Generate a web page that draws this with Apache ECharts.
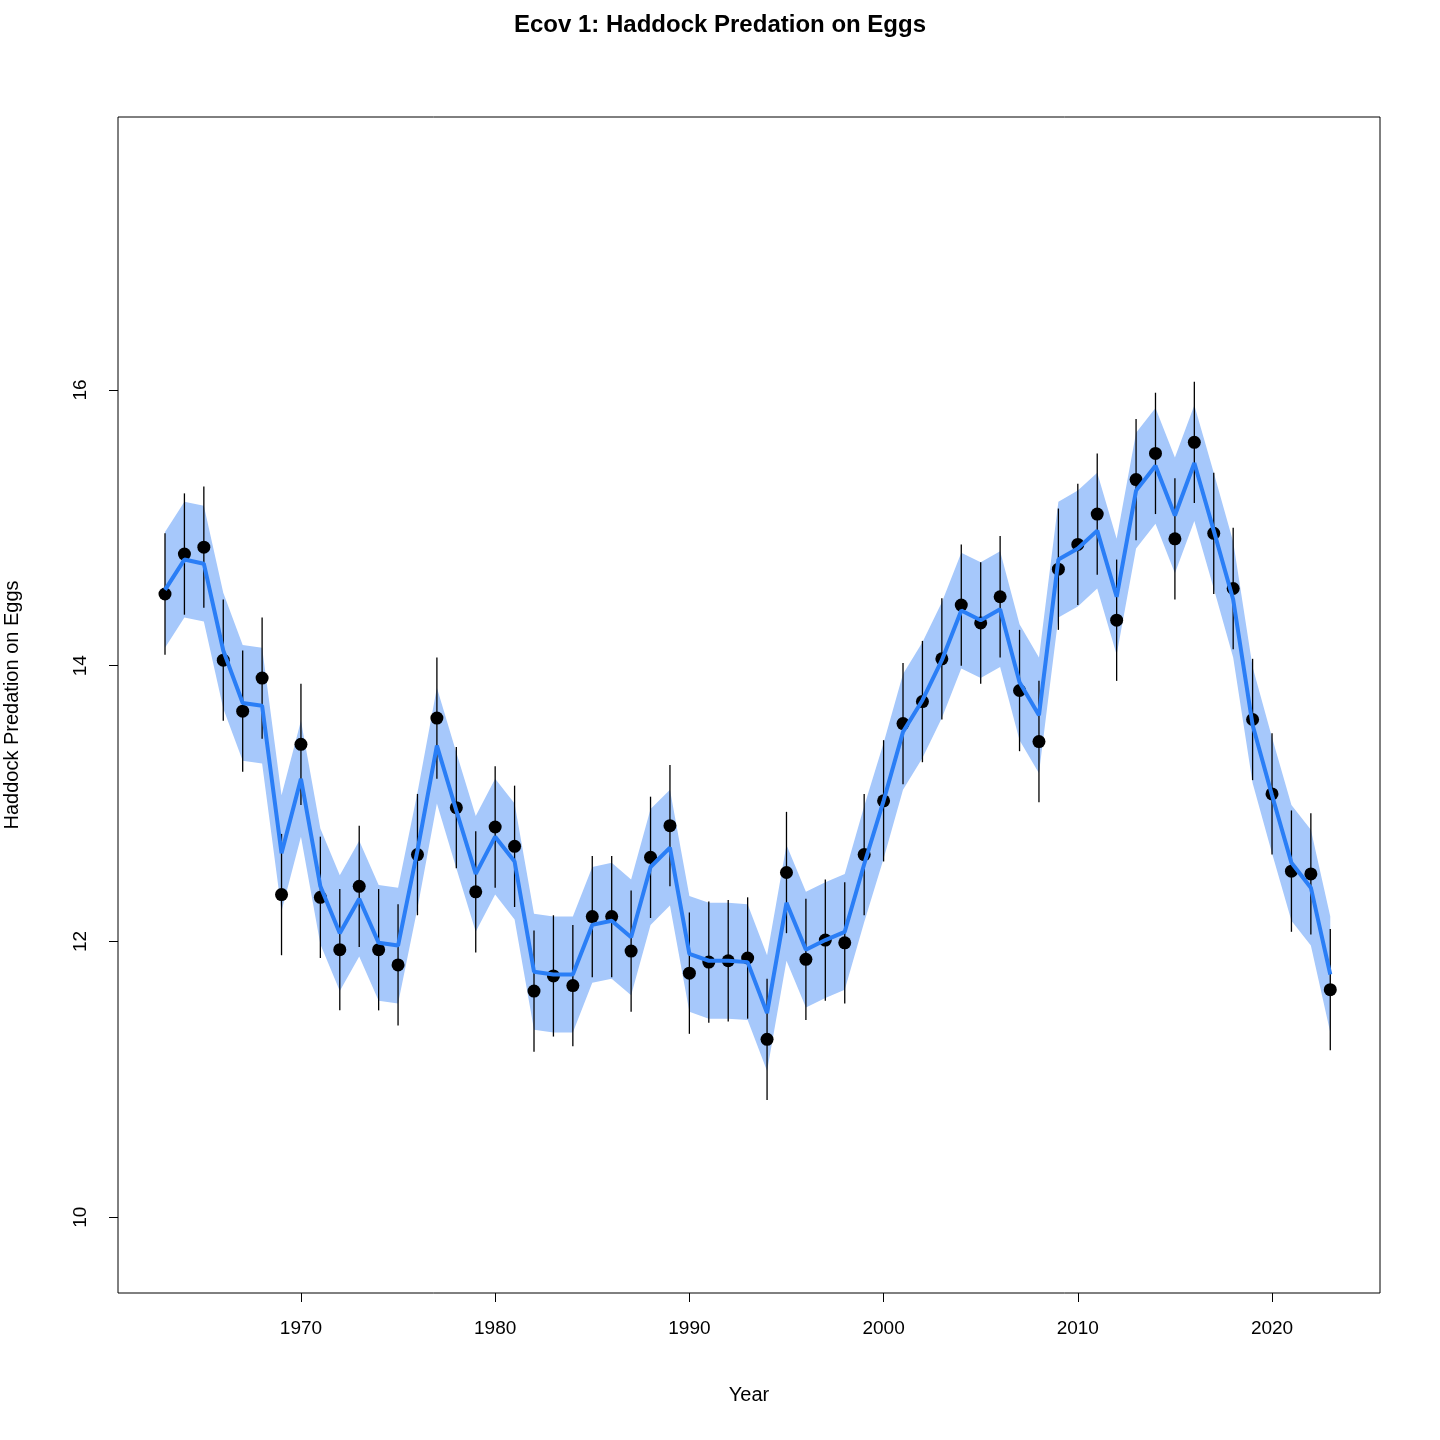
<!DOCTYPE html>
<html style="height: 100%">
<head>
    <meta charset="utf-8">
    <script src="https://cdn.jsdelivr.net/npm/echarts@6/dist/echarts.min.js"></script>
</head>
<body style="height: 100%; margin: 0">
    <div id="container" style="width:1440px;height:1440px"></div>
    <script type="text/javascript">
        var years = [];
        for (var y = 1963; y <= 2023; y++) years.push(y);
        // observations (points)
        var obs = [14.52,14.81,14.86,14.04,13.67,13.91,12.34,13.43,12.32,11.94,12.40,11.94,11.83,12.63,13.62,12.97,12.36,12.83,12.69,11.64,
                   11.75,11.68,12.18,12.18,11.93,12.61,12.84,11.77,11.85,11.86,11.88,11.29,12.50,11.87,12.01,11.99,12.63,13.02,13.58,13.74,
                   14.05,14.44,14.31,14.50,13.82,13.45,14.70,14.88,15.10,14.33,15.35,15.54,14.92,15.62,14.96,14.56,13.61,13.07,12.51,12.49,11.65];
        // model estimates (line)
        var est = [14.55,14.77,14.74,14.11,13.73,13.71,12.64,13.18,12.40,12.06,12.31,11.99,11.97,12.66,13.42,12.95,12.49,12.76,12.58,11.78,
                   11.76,11.76,12.12,12.15,12.03,12.54,12.68,11.91,11.86,11.86,11.85,11.48,12.28,11.94,12.01,12.07,12.56,13.02,13.52,13.75,
                   14.04,14.40,14.33,14.41,13.88,13.64,14.77,14.85,14.98,14.50,15.27,15.45,15.09,15.47,14.98,14.48,13.57,13.06,12.57,12.39,11.76];
        var obsSE = 0.44;   // half-length of error bars
        var estSE = 0.42;   // half-width of band
        var xTicks = [1970, 1980, 1990, 2000, 2010, 2020];
        var yTicks = [10, 12, 14, 16];

        var myChart = echarts.init(document.getElementById('container'));
        var bars = years.map(function (y, i) { return [y, obs[i] - obsSE, obs[i] + obsSE]; });

        var option = {
            animation: false,
            backgroundColor: '#fff',
            textStyle: { fontFamily: 'Liberation Sans, Arial, sans-serif' },
            title: {
                text: 'Ecov 1: Haddock Predation on Eggs',
                left: 'center', top: 8,
                textStyle: { fontSize: 24, fontWeight: 'bold', color: '#000' }
            },
            grid: { left: 118, right: 60, top: 117, bottom: 147, outerBoundsMode: 'none', containLabel: false,
                    show: true, borderColor: '#000', borderWidth: 1 },
            xAxis: {
                type: 'value', min: 1960.58, max: 2025.56,
                name: 'Year', nameLocation: 'middle', nameGap: 92,
                nameTextStyle: { fontSize: 20, color: '#000' },
                axisLine: { show: false },
                axisTick: { show: true, length: 9, customValues: xTicks, lineStyle: { color: '#000' } },
                axisLabel: { customValues: xTicks, fontSize: 19, color: '#000', margin: 26,
                             formatter: function (v) { return String(v); } },
                splitLine: { show: false }
            },
            yAxis: {
                type: 'value', min: 9.45, max: 17.98,
                name: 'Haddock Predation on Eggs', nameLocation: 'middle', nameGap: 96,
                nameTextStyle: { fontSize: 20, color: '#000' },
                axisLine: { show: false },
                axisTick: { show: true, length: 9, customValues: yTicks, lineStyle: { color: '#000' } },
                axisLabel: { customValues: yTicks, fontSize: 19, color: '#000', rotate: 90, margin: 28 },
                splitLine: { show: false }
            },
            series: [
                { type: 'custom', data: [0],
                  renderItem: function (params, api) {
                      var up = [], lo = [];
                      for (var i = 0; i < years.length; i++) {
                          up.push(api.coord([years[i], est[i] + estSE]));
                          lo.unshift(api.coord([years[i], est[i] - estSE]));
                      }
                      return { type: 'polygon', shape: { points: up.concat(lo) },
                               style: { fill: '#a6c8fb', stroke: null } };
                  } },
                { type: 'custom', data: bars,
                  renderItem: function (params, api) {
                      var a = api.coord([api.value(0), api.value(1)]);
                      var b = api.coord([api.value(0), api.value(2)]);
                      return { type: 'line', shape: { x1: a[0], y1: a[1], x2: b[0], y2: b[1] },
                               style: { stroke: '#000', lineWidth: 1.3 } };
                  } },
                { type: 'line', data: years.map(function (y, i) { return [y, est[i]]; }), symbol: 'none',
                  lineStyle: { color: '#2a7ef6', width: 4 } },
                { type: 'scatter', data: years.map(function (y, i) { return [y, obs[i]]; }),
                  symbolSize: 13, itemStyle: { color: '#000', opacity: 1 } }
            ]
        };
        myChart.setOption(option, true);
    </script>
</body>
</html>
